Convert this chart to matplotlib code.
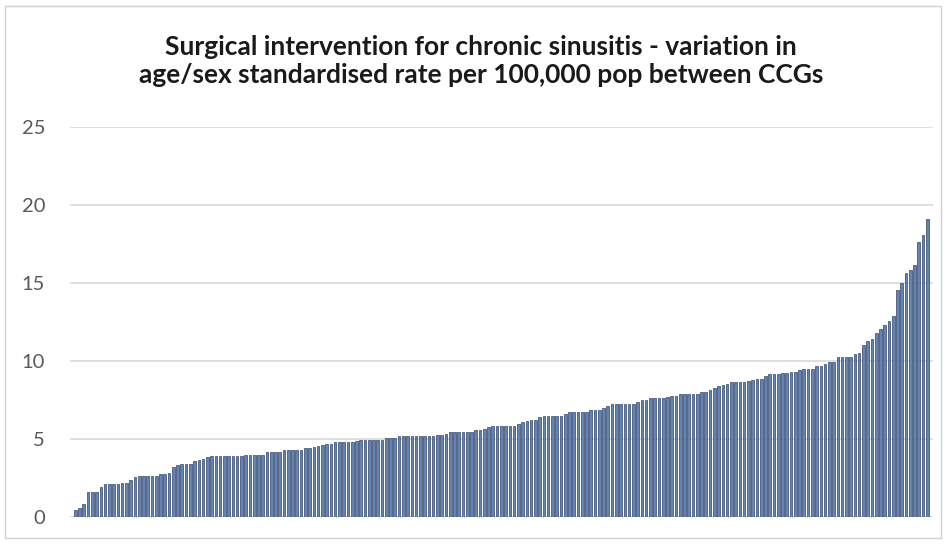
import matplotlib.pyplot as plt
from matplotlib.patches import Rectangle

# rate per 100,000 pop, CCGs sorted ascending
grp1 = [0.43, 0.57, 0.85, 1.6, 1.6, 1.6, 1.9, 2.1, 2.1, 2.1, 2.1, 2.2, 2.2,
        2.4, 2.55, 2.65, 2.65, 2.65, 2.65, 2.65, 2.75, 2.75, 2.85, 3.2, 3.36]
grp2 = [3.4, 3.4, 3.4, 3.57, 3.66, 3.73, 3.83, 3.9, 3.9, 3.9, 3.9, 3.9, 3.9,
        3.9, 3.92, 4.0, 4.0, 4.0, 4.0, 4.0, 4.15, 4.15, 4.15, 4.15]
grp3 = [4.26, 4.26, 4.26, 4.26, 4.26, 4.4, 4.4, 4.47, 4.53, 4.58, 4.68, 4.7,
        4.79, 4.79, 4.79, 4.79, 4.79, 4.85, 4.94, 4.94, 4.94, 4.94, 4.94, 4.94,
        5.04, 5.04, 5.04]
grp4 = [5.17, 5.17, 5.17, 5.17, 5.17, 5.17, 5.17, 5.17, 5.17, 5.28, 5.28, 5.3,
        5.42, 5.42, 5.42, 5.42, 5.42, 5.42, 5.58, 5.58, 5.65, 5.74, 5.8, 5.8,
        5.8, 5.8]
grp5 = [5.8, 5.8, 5.96, 6.06, 6.17, 6.23, 6.23, 6.38, 6.49, 6.49, 6.49, 6.49,
        6.49, 6.6, 6.75, 6.75, 6.75, 6.75, 6.75, 6.85, 6.85, 6.85, 6.96, 7.13,
        7.24, 7.24, 7.24]
grp6 = [7.24, 7.24, 7.24, 7.34, 7.49, 7.49, 7.6, 7.6, 7.6, 7.63, 7.66, 7.77,
        7.77, 7.87, 7.87, 7.87, 7.87, 7.87, 7.98, 7.98, 8.13, 8.26, 8.36, 8.47,
        8.5, 8.62]
grp7 = [8.62, 8.62, 8.62, 8.7, 8.79, 8.87, 8.87, 9.0, 9.15, 9.15, 9.15, 9.25,
        9.25, 9.28, 9.3, 9.43, 9.51, 9.51, 9.51, 9.68, 9.68, 9.79, 9.94, 9.94,
        10.27, 10.27, 10.27]
grp8 = [10.27, 10.43, 10.5, 11.02, 11.28, 11.43, 11.81, 12.06, 12.3, 12.55,
        12.87, 14.51, 15.0, 15.64, 15.81, 16.17, 17.62, 18.09, 19.1]

rates = grp1 + grp2 + grp3 + grp4 + grp5 + grp6 + grp7 + grp8
y_ticks = [0, 5, 10, 15, 20, 25]

title = ("Surgical intervention for chronic sinusitis - variation in\n"
         "age/sex standardised rate per 100,000 pop between CCGs")

fig = plt.figure(figsize=(9.47, 5.44), dpi=100)
ax = fig.add_axes([70 / 947, 1 - 517 / 544, 863 / 947, (517 - 126.7) / 544])

xs = range(len(rates))
ax.bar(xs, rates, width=0.62, color='#6483b3', edgecolor='#26395a',
       linewidth=0.45, zorder=3)

ax.set_ylim(0, 25)
ax.set_xlim(-1.24, len(rates) - 1 + 1.33)
ax.set_yticks(y_ticks)
ax.set_yticklabels([str(t) for t in y_ticks], fontsize=14.5, color='#595959',
                   family='Lato')
ax.tick_params(axis='y', length=0, pad=18)
ax.set_xticks([])
ax.grid(axis='y', color='#d9d9d9', linewidth=1.2, zorder=0)
for s in ax.spines.values():
    s.set_visible(False)

fig.text(481 / 947, 1 - 61 / 544, title, ha='center', va='center',
         fontsize=19, fontweight='bold', family='Lato', color='#1a1a1a',
         linespacing=1.2)

# chart frame
fig.patches.append(Rectangle((5 / 947, 6 / 544), 936 / 947, 532 / 544,
                             transform=fig.transFigure, fill=False,
                             edgecolor='#d0d0d0', linewidth=1))

fig.savefig('out.png', dpi=100)
